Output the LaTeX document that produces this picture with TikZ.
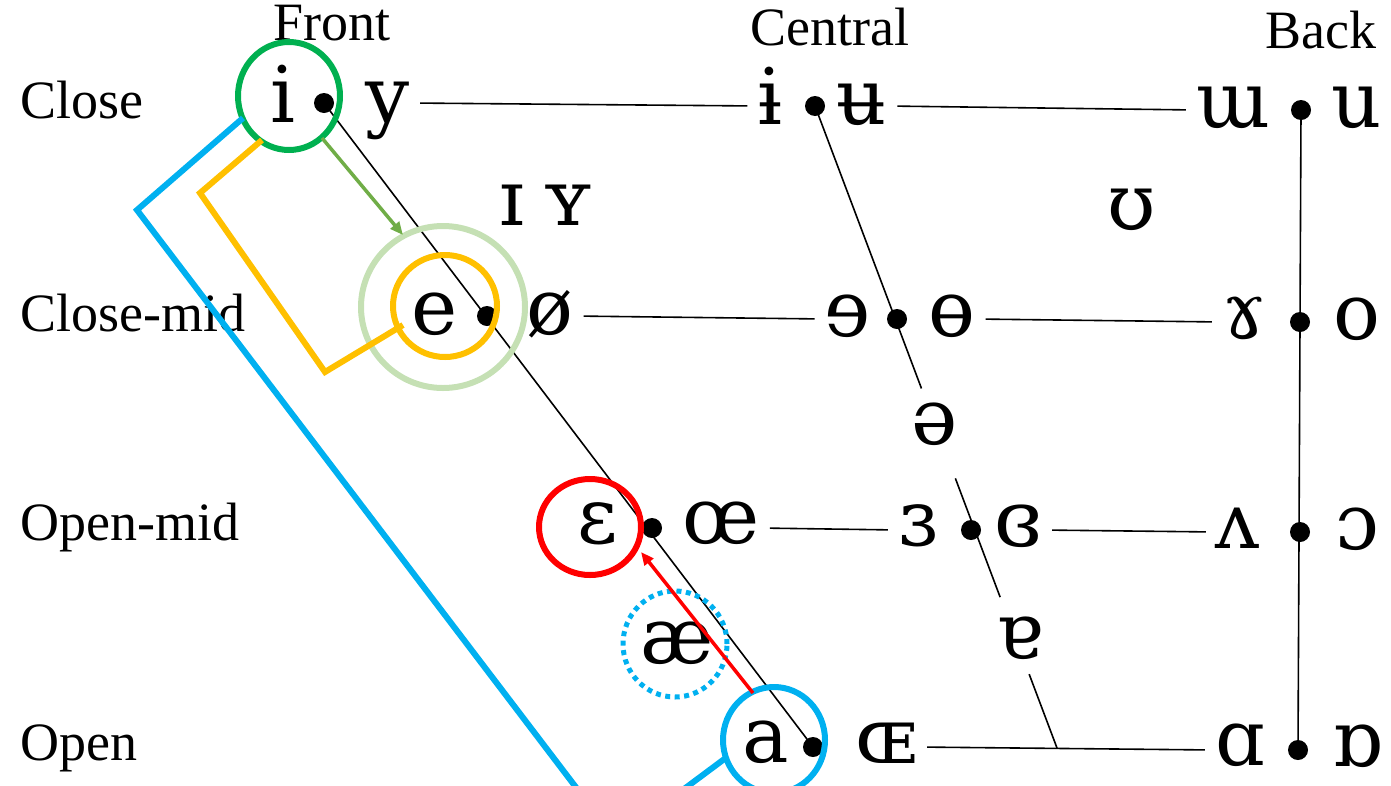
\documentclass[tikz,border=0pt]{standalone}
\usepackage{fontspec}
\setmainfont{Liberation Serif}
\newfontfamily\ipafont{DejaVu Serif}
\usepackage{tikz}
\usetikzlibrary{arrows.meta,calc}
\definecolor{ringgreen}{RGB}{0,176,80}
\definecolor{palegreen}{RGB}{197,224,180}
\definecolor{ringorange}{RGB}{255,192,0}
\definecolor{ringblue}{RGB}{0,176,240}
\definecolor{ringred}{RGB}{255,0,0}
\definecolor{arrowgreen}{RGB}{112,173,71}

\begin{document}
\begin{tikzpicture}[x=1pt,y=-1pt,>=Stealth,
  vow/.style={font=\ipafont\fontsize{78}{78}\selectfont,inner sep=0pt,anchor=base},
  lab/.style={font=\fontsize{54}{54}\selectfont,inner sep=0pt,anchor=base west},
  hd/.style={font=\fontsize{54}{54}\selectfont,inner sep=0pt,anchor=base},
  chart/.style={line width=1.6pt},
  hline/.style={chart,shorten <=10pt,shorten >=10pt},
  ring/.style={line width=6pt}]
\clip (0,0) rectangle (1391,785);
% ---- headings ----
\node[hd] (front) at (332,40) {Front};
\node[hd] (central) at (830,45) {Central};
\node[hd] (back) at (1321,48) {Back};
\node[lab] (close) at (20,118) {Close};
\node[lab] (closemid) at (20,331) {Close-mid};
\node[lab] (openmid) at (20,540) {Open-mid};
\node[lab] (open) at (20,760) {Open};
% ---- chart corners ----
\coordinate (dCf) at (324,103); \coordinate (dCc) at (815,106); \coordinate (dCb) at (1301,110);
\coordinate (dCMf) at (487,316); \coordinate (dCMc) at (897,319); \coordinate (dCMb) at (1300,322);
\coordinate (dOMf) at (652,528); \coordinate (dOMc) at (971,530); \coordinate (dOMb) at (1300,532);
\coordinate (dOf) at (813,747); \coordinate (dOb) at (1298,750);
\coordinate (cEnd) at (1057,748);
% ---- vowels ----
\node[vow] (i) at (283,122) {i};       \node[vow] (y) at (388,122) {y};
\node[vow] (ibar) at (770,124) {ɨ};    \node[vow] (ubar) at (862,124) {ʉ};
\node[vow] (turnm) at (1233,127) {ɯ};  \node[vow] (u) at (1357,127) {u};
\node[vow] (smi) at (512,225) {ɪ};     \node[vow] (smy) at (568,225) {ʏ};
\node[vow] (ups) at (1132,229) {ʊ};
\node[vow] (e) at (435,334) {e};       \node[vow] (oslash) at (550,334) {ø};
\node[vow] (reve) at (848,336) {ɘ};    \node[vow] (obar) at (952,336) {ɵ};
\node[vow] (rams) at (1244,338) {ɤ};   \node[vow] (o) at (1357,339) {o};
\node[vow] (schwa) at (935,444) {ə};
\node[vow] (eps) at (598,543) {ɛ};     \node[vow] (oe) at (721,543) {œ};
\node[vow] (reveps) at (918,545) {ɜ};  \node[vow] (cleps) at (1018,546) {ɞ};
\node[vow] (turnv) at (1238,548) {ʌ};  \node[vow] (openo) at (1357,549) {ɔ};
\node[vow] (ae) at (677,663) {æ};
\node[vow] (turna) at (1020,658) {ɐ};
\node[vow] (a) at (766,762) {a};       \node[vow] (OE) at (886,763) {ɶ};
\node[vow] (alpha) at (1240,765) {ɑ};  \node[vow] (turnalpha) at (1357,766) {ɒ};
% ---- chart lines ----
\draw[chart] (dCf) -- (dOf);
\draw[chart] (dCb) -- (dOb);
\draw[chart] (dCc) -- ($(dCc)!0.44!(cEnd)$);
\draw[chart] ($(dCc)!0.58!(cEnd)$) -- ($(dCc)!0.765!(cEnd)$);
\draw[chart] ($(dCc)!0.885!(cEnd)$) -- (cEnd);
\draw[hline] (y.east |- dCf) -- (ibar.west |- dCc);
\draw[hline] (ubar.east |- dCc) -- (turnm.west |- dCb);
\draw[hline] (oslash.east |- dCMf) -- (reve.west |- dCMc);
\draw[hline] (obar.east |- dCMc) -- (rams.west |- dCMb);
\draw[hline] (oe.east |- dOMf) -- (reveps.west |- dOMc);
\draw[hline] (cleps.east |- dOMc) -- (turnv.west |- dOMb);
\draw[hline] (OE.east |- dOf) -- (alpha.west |- dOb);
\foreach \d in {dCf,dCc,dCb,dCMf,dCMc,dCMb,dOMf,dOMc,dOMb,dOf,dOb}
  \fill (\d) circle (10pt);
% ---- annotations ----
\draw[ring,palegreen] (443,307) ellipse [x radius=82pt, y radius=81pt];
\draw[ring,ringorange] (445,306) ellipse [x radius=52pt, y radius=51pt];
\draw[ring,ringgreen] (289,96) ellipse [x radius=51pt, y radius=54pt];
\draw[ring,ringred] (590,527) ellipse [x radius=51pt, y radius=48pt];
\draw[ring,ringblue] (774,740) ellipse [x radius=51pt, y radius=53pt];
\draw[ring,ringblue,line width=5pt,dash pattern=on 5pt off 4.5pt] (675,644) ellipse [x radius=52pt, y radius=53pt];
% brackets
\coordinate (oA) at (262,140); \coordinate (oB) at (200,193);
\coordinate (oC) at (325,372); \coordinate (oD) at (403,325);
\draw[ring,ringorange,line join=miter] (oA) -- (oB) -- (oC) -- (oD);
\coordinate (bA) at (243,118); \coordinate (bB) at (137,210);
\coordinate (bC) at (578,790); \coordinate (bD) at (727,757); \coordinate (bE) at (680,792);
\draw[ring,ringblue] (bA) -- (bB) -- (bC);
\draw[ring,ringblue] (bD) -- (bE);
% arrows
\coordinate (gS) at (322,138); \coordinate (gT) at (403,235);
\draw[arrowgreen,line width=3.5pt,-{Triangle[length=13pt,width=11pt]}] (gS) -- (gT);
\coordinate (rS) at (753,693); \coordinate (rT) at (641,552);
\draw[ringred,line width=3.5pt,-{Triangle[length=13pt,width=11pt]}] (rS) -- (rT);
\end{tikzpicture}
\end{document}
